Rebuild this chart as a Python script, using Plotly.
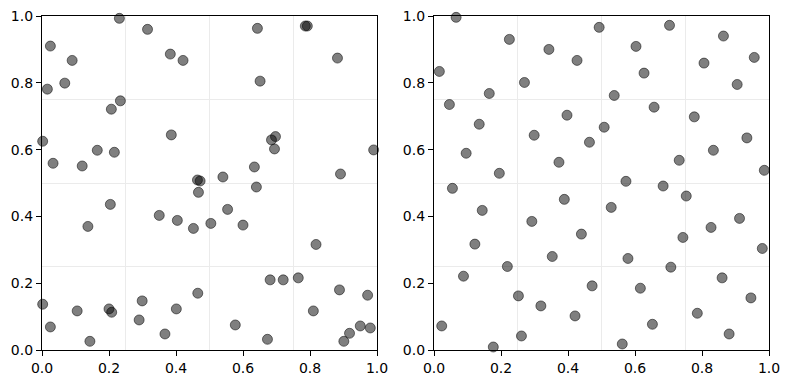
import plotly.graph_objects as go

# Left panel (uniform random)
left_x = [0.231, 0.315, 0.025, 0.383, 0.421, 0.090, 0.068, 0.016, 0.234, 0.207,
          0.386, 0.002, 0.165, 0.216, 0.033, 0.120, 0.464, 0.472, 0.643, 0.786,
          0.792, 0.882, 0.651, 0.697, 0.685, 0.694, 0.990, 0.634, 0.540, 0.891,
          0.640, 0.467, 0.204, 0.350, 0.404, 0.137, 0.452, 0.465, 0.002, 0.299,
          0.105, 0.200, 0.208, 0.401, 0.025, 0.290, 0.367, 0.143, 0.554, 0.504,
          0.600, 0.818, 0.681, 0.720, 0.765, 0.888, 0.972, 0.810, 0.577, 0.950,
          0.980, 0.918, 0.901, 0.673]
left_y = [0.993, 0.960, 0.910, 0.886, 0.867, 0.867, 0.799, 0.781, 0.746, 0.721,
          0.644, 0.625, 0.598, 0.592, 0.559, 0.551, 0.509, 0.506, 0.963, 0.970,
          0.970, 0.874, 0.805, 0.639, 0.629, 0.602, 0.599, 0.548, 0.518, 0.527,
          0.488, 0.472, 0.436, 0.403, 0.388, 0.370, 0.364, 0.170, 0.137, 0.147,
          0.117, 0.123, 0.113, 0.123, 0.069, 0.090, 0.048, 0.026, 0.421, 0.379,
          0.374, 0.316, 0.210, 0.210, 0.216, 0.180, 0.164, 0.117, 0.075, 0.072,
          0.066, 0.050, 0.026, 0.032]

# Right panel (evenly spread)
right_x = [0.066, 0.225, 0.343, 0.427, 0.016, 0.270, 0.165, 0.046, 0.397, 0.135,
           0.299, 0.464, 0.096, 0.373, 0.195,
           0.493, 0.703, 0.864, 0.603, 0.956, 0.806, 0.627, 0.905, 0.538, 0.657,
           0.777, 0.508, 0.934, 0.834, 0.732, 0.986, 0.573, 0.684,
           0.055, 0.389, 0.144, 0.292, 0.440, 0.122, 0.353, 0.219, 0.088, 0.472,
           0.252, 0.319, 0.421, 0.023, 0.261, 0.177,
           0.753, 0.529, 0.912, 0.827, 0.743, 0.980, 0.579, 0.707, 0.860, 0.616,
           0.946, 0.786, 0.652, 0.881, 0.562]
right_y = [0.996, 0.930, 0.900, 0.867, 0.834, 0.801, 0.768, 0.735, 0.703, 0.676,
           0.643, 0.622, 0.589, 0.562, 0.529,
           0.966, 0.972, 0.940, 0.909, 0.876, 0.859, 0.829, 0.795, 0.762, 0.727,
           0.698, 0.667, 0.635, 0.598, 0.568, 0.538, 0.505, 0.491,
           0.484, 0.451, 0.418, 0.385, 0.347, 0.317, 0.280, 0.250, 0.221, 0.192,
           0.162, 0.132, 0.102, 0.072, 0.042, 0.009,
           0.461, 0.427, 0.394, 0.367, 0.337, 0.304, 0.274, 0.248, 0.216, 0.185,
           0.156, 0.110, 0.077, 0.048, 0.018]

tick_vals = [0.0, 0.2, 0.4, 0.6, 0.8, 1.0]
tick_text = ["0.0", "0.2", "0.4", "0.6", "0.8", "1.0"]

OFF = 8  # default page body margin
W, H = 790 - OFF, 384 - OFF
fig = go.Figure()

marker = dict(size=10, color="rgba(0,0,0,0.5)",
              line=dict(color="rgba(0,0,0,0.5)", width=1))

fig.add_trace(go.Scatter(x=left_x, y=left_y, mode="markers", marker=marker,
                         xaxis="x", yaxis="y", showlegend=False, cliponaxis=False))
fig.add_trace(go.Scatter(x=right_x, y=right_y, mode="markers", marker=marker,
                         xaxis="x2", yaxis="y2", showlegend=False, cliponaxis=False))

ydom = [1 - (350 - OFF) / H, 1 - (16 - OFF) / H]
axis_common = dict(
    range=[0, 1], showline=True, linecolor="black", linewidth=1.2, mirror=True,
    ticks="outside", ticklen=5, tickwidth=1, tickcolor="black",
    tickvals=tick_vals, ticktext=tick_text, ticklabeloverflow="allow",
    tickfont=dict(family="DejaVu Sans", size=14, color="black"),
    showgrid=False, zeroline=False, automargin=False,
    minor=dict(tickvals=[0.25, 0.5, 0.75], showgrid=True,
               gridcolor="#ebebeb", gridwidth=1, ticks=""),
)

fig.update_layout(
    width=W, height=H,
    margin=dict(l=0, r=0, t=0, b=0),
    paper_bgcolor="white", plot_bgcolor="white",
    xaxis=dict(domain=[(42 - OFF) / W, (377 - OFF) / W], anchor="y", **axis_common),
    yaxis=dict(domain=ydom, anchor="x", **axis_common),
    xaxis2=dict(domain=[(434 - OFF) / W, (769 - OFF) / W], anchor="y2", **axis_common),
    yaxis2=dict(domain=ydom, anchor="x2", **axis_common),
)

fig.write_html("out.html")
